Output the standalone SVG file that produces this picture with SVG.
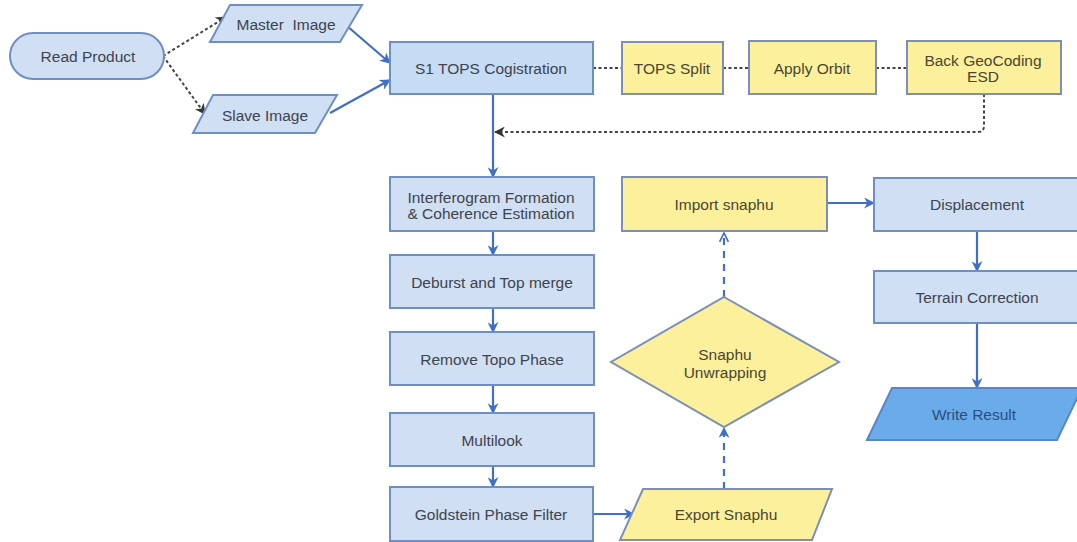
<svg xmlns="http://www.w3.org/2000/svg" width="1077" height="542" viewBox="0 0 1077 542">
<defs>
<style>
.b{fill:#d0dff3;stroke:#6f8fc4;stroke-width:2}
.s{fill:#c6dcf5;stroke:#6f8fc4;stroke-width:2}
.y{fill:#fdf09c;stroke:#7b8fb8;stroke-width:2}
.w{fill:#6aace9;stroke:#5a86c8;stroke-width:2}
.t{font-family:"Liberation Sans",Arial,sans-serif;font-size:15.5px;fill:#3e434d;text-anchor:middle;dominant-baseline:central}
.ty{fill:#4a4530}
.c{fill:none;stroke:#3f6fc6;stroke-width:2.2}
.d{fill:none;stroke:#444;stroke-width:2;stroke-dasharray:3,2.5}
.dd{fill:none;stroke:#3f6fc6;stroke-width:2.2;stroke-dasharray:7,6}
</style>
<marker id="a" viewBox="0 0 10 10" refX="9" refY="5" markerWidth="5" markerHeight="5" orient="auto-start-reverse" markerUnits="strokeWidth">
<path d="M0,0 L10,5 L0,10 L3,5 z" fill="#3f6fc6"/>
</marker>
<marker id="ak" viewBox="0 0 10 10" refX="9" refY="5" markerWidth="5.5" markerHeight="5.5" orient="auto-start-reverse" markerUnits="strokeWidth">
<path d="M0,0 L10,5 L0,10 L3,5 z" fill="#333"/>
</marker>
<marker id="ao" viewBox="0 0 10 10" refX="9" refY="5" markerWidth="5" markerHeight="5" orient="auto" markerUnits="strokeWidth">
<path d="M1,1 L9,5 L1,9" fill="none" stroke="#3f6fc6" stroke-width="1.5"/>
</marker>
</defs>
<rect width="1077" height="542" fill="#ffffff"/>

<g id="connectors">
<path class="d" d="M163,56 L226,17" marker-end="url(#ak)"/>
<path class="d" d="M163,56 L205,114" marker-end="url(#ak)"/>
<path class="c" d="M347,26 L390,63" marker-end="url(#a)"/>
<path class="c" d="M330,113 L390,80" marker-end="url(#a)"/>
<path class="d" d="M593,68 L622,68"/>
<path class="d" d="M723,68 L749,68"/>
<path class="d" d="M876,68 L907,68"/>
<path class="d" d="M984,94 L984,126 Q984,132 978,132 L495,132" marker-end="url(#ak)"/>
<path class="c" d="M493,94 L493,177" marker-end="url(#a)"/>
<path class="c" d="M493,231 L493,255" marker-end="url(#a)"/>
<path class="c" d="M493,308 L493,332" marker-end="url(#a)"/>
<path class="c" d="M493,385 L493,413" marker-end="url(#a)"/>
<path class="c" d="M493,466 L493,487" marker-end="url(#a)"/>
<path class="c" d="M593,514 L634,514" marker-end="url(#a)"/>
<path class="dd" d="M724,489 L724,428" marker-end="url(#a)"/>
<path class="dd" d="M724,297 L724,233" marker-end="url(#ao)"/>
<path class="c" d="M827,203 L874,203" marker-end="url(#a)"/>
<path class="c" d="M977,231 L977,271" marker-end="url(#a)"/>
<path class="c" d="M977,323 L977,388" marker-end="url(#a)"/>
</g>

<g id="read-product">
<rect class="b" x="10" y="33" width="154" height="46" rx="23"/>
<text class="t" x="88" y="56">Read Product</text>
</g>
<g id="master-image">
<path class="b" d="M230,5 L362,5 L340,42 L210,42 Z"/>
<text class="t" x="286" y="24" xml:space="preserve">Master  Image</text>
</g>
<g id="slave-image">
<path class="b" d="M213,95 L337,95 L315,133 L193,133 Z"/>
<text class="t" x="265" y="115">Slave Image</text>
</g>
<g id="s1-tops">
<rect class="s" x="390" y="42" width="203" height="52"/>
<text class="t" x="491" y="68">S1 TOPS Cogistration</text>
</g>
<g id="tops-split">
<rect class="y" x="622" y="42" width="101" height="52"/>
<text class="t ty" x="672" y="68">TOPS Split</text>
</g>
<g id="apply-orbit">
<rect class="y" x="749" y="41" width="127" height="53"/>
<text class="t ty" x="812" y="68">Apply Orbit</text>
</g>
<g id="back-geocoding">
<rect class="y" x="907" y="41" width="154" height="53"/>
<text class="t ty" x="983" y="60">Back GeoCoding</text>
<text class="t ty" x="983" y="76">ESD</text>
</g>
<g id="interferogram">
<rect class="b" x="390" y="177" width="204" height="54"/>
<text class="t" x="491" y="197">Interferogram Formation</text>
<text class="t" x="491" y="213">&amp; Coherence Estimation</text>
</g>
<g id="deburst">
<rect class="b" x="390" y="255" width="204" height="53"/>
<text class="t" x="492" y="282">Deburst and Top merge</text>
</g>
<g id="remove-topo">
<rect class="b" x="390" y="332" width="204" height="53"/>
<text class="t" x="492" y="359">Remove Topo Phase</text>
</g>
<g id="multilook">
<rect class="b" x="390" y="413" width="204" height="53"/>
<text class="t" x="492" y="440">Multilook</text>
</g>
<g id="goldstein">
<rect class="b" x="390" y="487" width="203" height="54"/>
<text class="t" x="491" y="514">Goldstein Phase Filter</text>
</g>
<g id="export-snaphu">
<path class="y" d="M643,489 L832,489 L812,540 L620,540 Z"/>
<text class="t ty" x="726" y="514">Export Snaphu</text>
</g>
<g id="snaphu-unwrapping">
<path class="y" d="M724,297 L839,362 L724,427 L611,362 Z"/>
<text class="t ty" x="725" y="354">Snaphu</text>
<text class="t ty" x="725" y="372">Unwrapping</text>
</g>
<g id="import-snaphu">
<rect class="y" x="622" y="177" width="205" height="54"/>
<text class="t ty" x="724" y="204">Import snaphu</text>
</g>
<g id="displacement">
<rect class="b" x="874" y="178" width="205" height="53"/>
<text class="t" x="977" y="204">Displacement</text>
</g>
<g id="terrain-correction">
<rect class="b" x="874" y="271" width="205" height="52"/>
<text class="t" x="977" y="297">Terrain Correction</text>
</g>
<g id="write-result">
<path class="w" d="M892,388 L1082,388 L1057,440 L867,440 Z"/>
<text class="t" x="974" y="414" style="fill:#2b4d80">Write Result</text>
</g>
</svg>
